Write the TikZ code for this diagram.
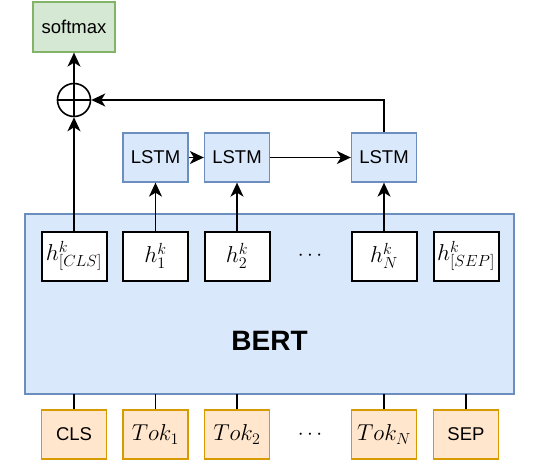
\RequirePackage{fix-cm}
\documentclass[tikz,border=0pt]{standalone}
\usepackage[no-math]{fontspec}
\setmainfont{Liberation Sans}
\usetikzlibrary{arrows.meta,positioning}

\begin{document}
\begin{tikzpicture}[x=1pt,y=-1pt]
        \tikzset{box/.style={draw,rectangle,minimum width=65pt,minimum height=49pt,inner sep=1pt,line width=1.3pt,font=\fontsize{18.5}{22}\selectfont},
            lstm/.style={box,fill={rgb,255:red,218;green,232;blue,252},draw={rgb,255:red,108;green,142;blue,191}},
            hid/.style={box,fill=white,draw=black,line width=2pt,font=\fontsize{23}{26}\selectfont},
            tok/.style={box,fill={rgb,255:red,255;green,230;blue,204},draw={rgb,255:red,215;green,155;blue,0},font=\fontsize{18.5}{22}\selectfont},
            arr/.style={-{Stealth[length=14pt,width=13pt,inset=4pt]},line width=1.6pt},
            link/.style={line width=1.6pt}}
        \useasboundingbox (0,0) rectangle (540,463);
        % output
        \node[box,minimum width=82pt,minimum height=50pt,fill={rgb,255:red,213;green,232;blue,212},draw={rgb,255:red,130;green,179;blue,102}] (softmax) at (74,27) {softmax};
        \node[circle,draw,line width=1.6pt,minimum size=33pt,inner sep=0pt] (plus) at (74,100) {};
        \draw[line width=1.6pt] (plus.north) -- (plus.south) (plus.west) -- (plus.east);
        % lstm chain
        \node[lstm] (lstma) at (155.5,157.5) {LSTM};
        \node[lstm] (lstmb) at (237,157.5) {LSTM};
        \node[lstm] (lstmn) at (384,157.5) {LSTM};
        % encoder
        \draw[line width=1.3pt,fill={rgb,255:red,218;green,232;blue,252},draw={rgb,255:red,108;green,142;blue,191}] (25,214) rectangle (514,394);
        \coordinate (bertbot) at (269.5,394);
        \node[font=\fontsize{28}{32}\selectfont\bfseries] (bert) at (269.5,341) {BERT};
        \node[hid] (hcls) at (74,256) {$h^{k}_{[CLS]}$};
        \node[hid] (ha) at (155.5,256) {$h^{k}_{1}$};
        \node[hid] (hb) at (237,256) {$h^{k}_{2}$};
        \node[font=\fontsize{21}{24}\selectfont] (hdots) at (310,256) {$\cdots$};
        \node[hid] (hn) at (384,256) {$h^{k}_{N}$};
        \node[hid] (hsep) at (466,256) {$h^{k}_{[SEP]}$};
        % tokens
        \node[tok] (tcls) at (74,434.5) {CLS};
        \node[tok,font=\fontsize{23}{26}\selectfont] (ta) at (155.5,434.5) {$Tok_{1}$};
        \node[tok,font=\fontsize{23}{26}\selectfont] (tb) at (237,434.5) {$Tok_{2}$};
        \node[font=\fontsize{21}{24}\selectfont] (tdots) at (310,434.5) {$\cdots$};
        \node[tok,font=\fontsize{23}{26}\selectfont] (tn) at (384,434.5) {$Tok_{N}$};
        \node[tok] (tsep) at (466,434.5) {SEP};
        % connectors
        \foreach \t in {tcls,ta,tb,tn,tsep}
            \draw[link] (\t.north) -- (\t.north |- bertbot);
        \draw[arr] (hcls) -- (plus);
        \draw[arr] (plus) -- (softmax);
        \draw[arr] (ha) -- (lstma);
        \draw[arr] (hb) -- (lstmb);
        \draw[arr] (hn) -- (lstmn);
        \draw[arr] (lstma) -- (lstmb);
        \draw[arr] (lstmb) -- (lstmn);
        \draw[arr] (lstmn.north) |- (plus.east);
    \end{tikzpicture}
\end{document}
